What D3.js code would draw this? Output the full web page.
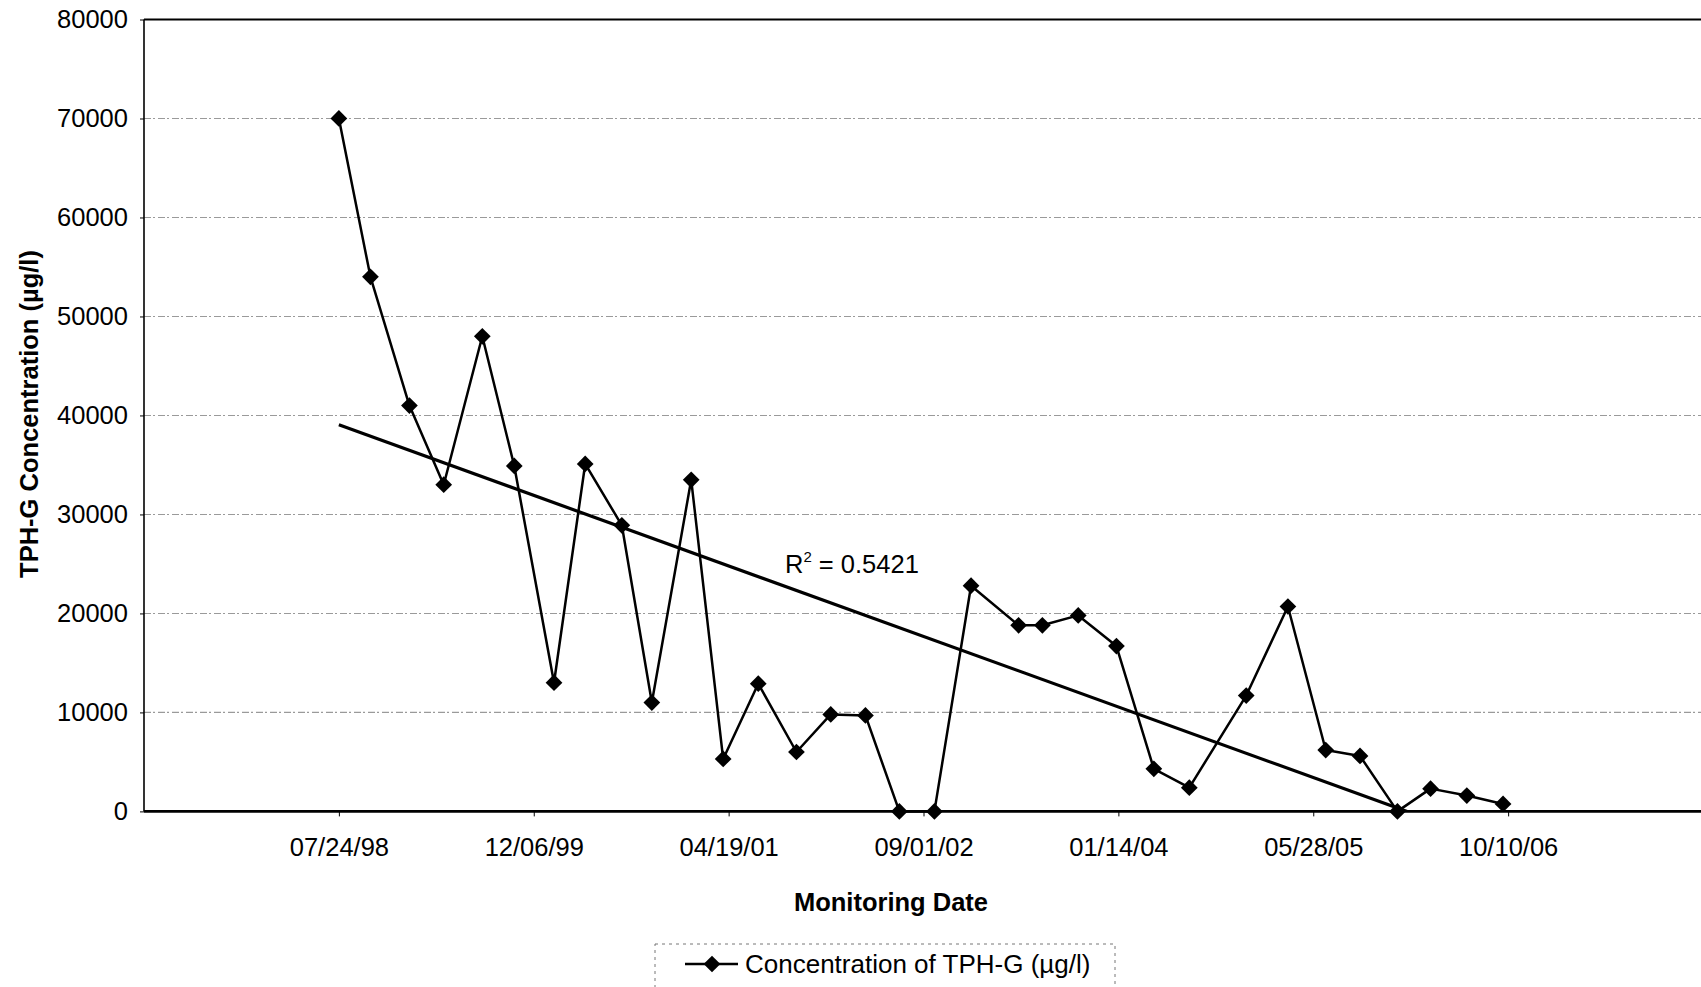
<!DOCTYPE html>
<html>
<head>
<meta charset="utf-8">
<script src="https://cdn.jsdelivr.net/npm/d3@7"></script>
<style>
  body { margin: 0; background: #fff; }
  svg { display: block; font-family: "Liberation Sans", Arial, sans-serif; }
</style>
</head>
<body>
<svg id="chart" width="1701" height="987"></svg>
<script>
// ---- data ----
const sampleDates = [
  "1998-07-24","1998-10-13","1999-01-21","1999-04-19","1999-07-27","1999-10-17",
  "2000-01-27","2000-04-16","2000-07-19","2000-10-04","2001-01-13","2001-04-05",
  "2001-07-04","2001-10-10","2002-01-06","2002-04-05","2002-07-01","2002-09-29",
  "2003-01-01","2003-05-03","2003-07-03","2003-10-03","2004-01-09","2004-04-14",
  "2004-07-14","2004-12-07","2005-03-24","2005-06-29","2005-09-25","2005-12-30",
  "2006-03-25","2006-06-26","2006-09-27"
];
const tphG = [
  70000, 54000, 41000, 33000, 48000, 34900,
  13000, 35100, 28900, 11000, 33500, 5300,
  12900, 6000, 9800, 9700, 0, 0,
  22800, 18800, 18800, 19800, 16700, 4300,
  2400, 11700, 20700, 6200, 5600, 0,
  2300, 1600, 750
];
const xTickLabels = ["07/24/98","12/06/99","04/19/01","09/01/02","01/14/04","05/28/05","10/10/06"];
const xDomainDates = ["1997-03-11","2008-02-22"];
const yTicks = [0,10000,20000,30000,40000,50000,60000,70000,80000];
const yDomain = [0, 80000];
const rSquaredText = "0.5421";
const seriesName = "Concentration of TPH-G (\u00B5g/l)";
const xTitle = "Monitoring Date";
const yTitle = "TPH-G Concentration (\u00B5g/l)";

// ---- layout ----
const svg = d3.select("#chart");
const L = 144, R = 1703, T = 19.5, B = 811.4;
const parseISO = d3.utcParse("%Y-%m-%d");
const parseLbl = d3.utcParse("%m/%d/%y");

const x = d3.scaleUtc().domain(xDomainDates.map(parseISO)).range([L, R]);
const y = d3.scaleLinear().domain(yDomain).range([B, T]);

const data = sampleDates.map((d, i) => ({ date: parseISO(d), v: tphG[i] }));

svg.append("defs").append("clipPath").attr("id", "plotClip")
  .append("rect").attr("x", L).attr("y", T).attr("width", R - L).attr("height", B - T);

// gridlines
svg.append("g").selectAll("line")
  .data(yTicks.filter(v => v > 0 && v < yDomain[1]))
  .join("line")
  .attr("x1", L).attr("x2", R)
  .attr("y1", d => y(d)).attr("y2", d => y(d))
  .attr("stroke", "#9a9a9a").attr("stroke-width", 1.1)
  .attr("stroke-dasharray", "7,2,2,3");

// axes
const tickDates = xTickLabels.map(parseLbl);
const xAxis = d3.axisBottom(x).tickValues(tickDates)
  .tickFormat((d, i) => xTickLabels[i]).tickSize(5).tickPadding(22);
const gx = svg.append("g").attr("transform", `translate(0,${B})`).call(xAxis);
gx.select(".domain").remove();
gx.selectAll(".tick line").attr("stroke", "#000").attr("stroke-width", 1);
gx.selectAll(".tick text").attr("font-size", 25.5).attr("fill", "#000")
  .attr("font-family", "'Liberation Sans', Arial, sans-serif");

const yAxis = d3.axisLeft(y).tickValues(yTicks).tickFormat(d3.format("d"))
  .tickSize(4).tickPadding(12);
const gy = svg.append("g").attr("transform", `translate(${L},0)`).call(yAxis);
gy.select(".domain").remove();
gy.selectAll(".tick line").attr("stroke", "#000").attr("stroke-width", 1);
gy.selectAll(".tick text").attr("font-size", 25.5).attr("fill", "#000")
  .attr("font-family", "'Liberation Sans', Arial, sans-serif");

// plot borders
svg.append("line").attr("x1", L).attr("x2", R).attr("y1", T).attr("y2", T)
  .attr("stroke", "#000").attr("stroke-width", 1.8);
svg.append("line").attr("x1", L).attr("x2", L).attr("y1", T).attr("y2", B)
  .attr("stroke", "#000").attr("stroke-width", 1.6);
svg.append("line").attr("x1", L).attr("x2", R).attr("y1", B).attr("y2", B)
  .attr("stroke", "#000").attr("stroke-width", 2.6);

// linear trendline (least squares on date)
const xs = data.map(d => +d.date), ys = data.map(d => d.v);
const mx = d3.mean(xs), my = d3.mean(ys);
let sxy = 0, sxx = 0;
xs.forEach((xv, i) => { sxy += (xv - mx) * (ys[i] - my); sxx += (xv - mx) * (xv - mx); });
const slope = sxy / sxx, intercept = my - slope * mx;
const tStart = data[0].date, tEnd = data[data.length - 1].date;
svg.append("line")
  .attr("clip-path", "url(#plotClip)")
  .attr("x1", x(tStart)).attr("y1", y(intercept + slope * (+tStart)))
  .attr("x2", x(tEnd)).attr("y2", y(intercept + slope * (+tEnd)))
  .attr("stroke", "#000").attr("stroke-width", 3.2);

// series line
const line = d3.line().x(d => x(d.date)).y(d => y(d.v));
svg.append("path").datum(data)
  .attr("d", line).attr("fill", "none")
  .attr("stroke", "#000").attr("stroke-width", 2.5).attr("stroke-linejoin", "round");

// markers
const diamond = d3.symbol().type(d3.symbolSquare).size(140);
svg.append("g").selectAll("path").data(data).join("path")
  .attr("d", diamond)
  .attr("transform", d => `translate(${x(d.date)},${y(d.v)}) rotate(45)`)
  .attr("fill", "#000");

// R² label
const rt = svg.append("text").attr("x", 785).attr("y", 573)
  .attr("font-size", 25.5).attr("fill", "#000");
rt.append("tspan").text("R");
rt.append("tspan").attr("font-size", 15).attr("dy", -11).text("2");
rt.append("tspan").attr("dy", 11).text(" = " + rSquaredText);

// axis titles
svg.append("text").attr("x", 891).attr("y", 911)
  .attr("text-anchor", "middle").attr("font-size", 25.5).attr("font-weight", "bold")
  .attr("fill", "#000").text(xTitle);
svg.append("text").attr("transform", "translate(38,414) rotate(-90)")
  .attr("text-anchor", "middle").attr("font-size", 25.5).attr("font-weight", "bold")
  .attr("fill", "#000").text(yTitle);

// legend
const lg = svg.append("g");
lg.append("rect").attr("x", 655).attr("y", 944).attr("width", 460).attr("height", 80)
  .attr("fill", "none").attr("stroke", "#777").attr("stroke-width", 1)
  .attr("stroke-dasharray", "3,4");
lg.append("line").attr("x1", 685).attr("x2", 738).attr("y1", 964).attr("y2", 964)
  .attr("stroke", "#000").attr("stroke-width", 2.5);
lg.append("path").attr("d", diamond).attr("transform", "translate(712,964) rotate(45)")
  .attr("fill", "#000");
lg.append("text").attr("x", 745).attr("y", 973).attr("font-size", 26)
  .attr("fill", "#000").text(seriesName);
</script>
</body>
</html>
